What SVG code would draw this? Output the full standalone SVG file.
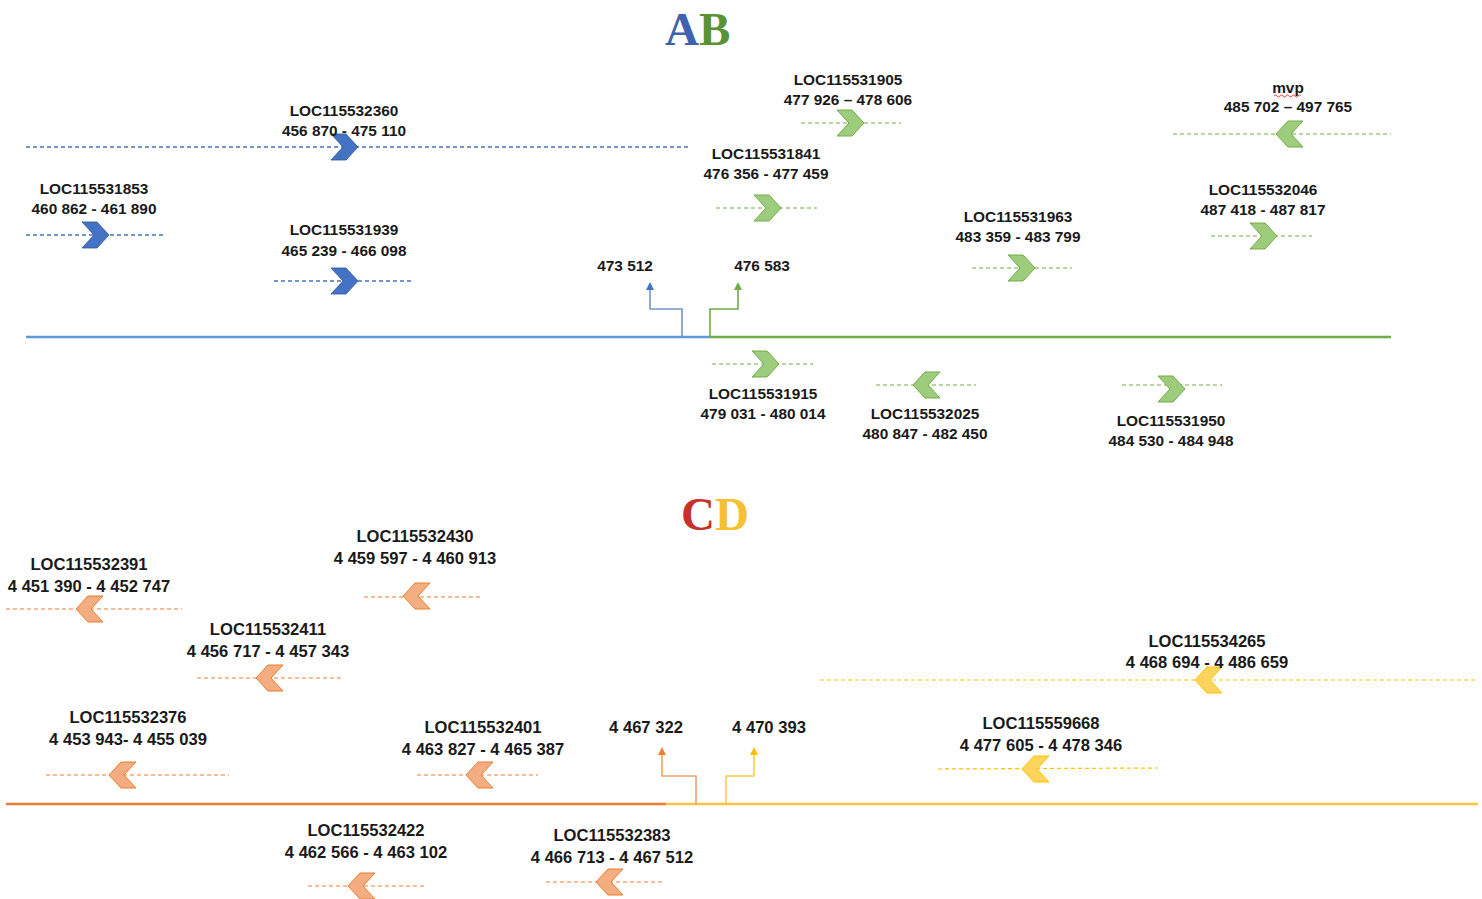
<svg xmlns="http://www.w3.org/2000/svg" width="1482" height="899" viewBox="0 0 1482 899">
<style>
.t{font-family:"Liberation Sans",Arial,sans-serif;font-weight:bold;fill:#1a1a1a;text-anchor:middle}
.ab{font-size:15.4px}
.cd{font-size:16.6px}
.title{font-family:"Liberation Serif","DejaVu Serif",serif;font-weight:bold;font-size:47px}
.dB{stroke:#4472C4;stroke-width:1.3;stroke-dasharray:4 3;fill:none}
.dG{stroke:#70AD47;stroke-width:1.2;stroke-dasharray:4 3;fill:none}
.dO{stroke:#ED7D31;stroke-width:1.2;stroke-dasharray:4 3;fill:none}
.dY{stroke:#FFC000;stroke-width:1.2;stroke-dasharray:4 3;fill:none}
.cB{fill:#4472C4;stroke:#2F5597;stroke-width:0.8}
.cG{fill:#9DCC7D;stroke:#70AD47;stroke-width:1}
.cO{fill:#F4AD80;stroke:#ED7D31;stroke-width:1}
.cY{fill:#FFD45C;stroke:#FFC000;stroke-width:1}
</style>
<defs>
<path id="chR" d="M0,0 H15 L27,13 L15,26 H0 L12,13 Z"/>
<path id="chL" d="M27,0 H12 L0,13 L12,26 H27 L15,13 Z"/>
</defs>
<rect width="1482" height="899" fill="#ffffff"/>

<g id="title-AB"><text class="title" x="665" y="45"><tspan fill="#3D63AE">A</tspan><tspan fill="#5B9236">B</tspan></text></g>
<g id="title-CD"><text class="title" x="681" y="530"><tspan fill="#C8302A">C</tspan><tspan fill="#F7C032">D</tspan></text></g>

<g id="connectors">
<line x1="26" y1="337" x2="710" y2="337" stroke="#5B9BD5" stroke-width="2.5"/>
<line x1="710" y1="337" x2="1391" y2="337" stroke="#70AD47" stroke-width="2.5"/>
<path d="M682,337 V309 H650 V289" fill="none" stroke="#6F97D6" stroke-width="1.6"/>
<path d="M646,290 L650,282 L654,290 Z" fill="#4472C4"/>
<path d="M710,337 V309 H738 V289" fill="none" stroke="#70AD47" stroke-width="1.6"/>
<path d="M734,290 L738,282 L742,290 Z" fill="#70AD47"/>

<line x1="6" y1="804" x2="666" y2="804" stroke="#ED7D31" stroke-width="2.5"/>
<line x1="666" y1="804" x2="1478" y2="804" stroke="#F7C341" stroke-width="2.5"/>
<path d="M696,804 V776 H662 V754" fill="none" stroke="#F0A06A" stroke-width="1.6"/>
<path d="M658,755 L662,747 L666,755 Z" fill="#ED7D31"/>
<path d="M726,804 V776 H754 V754" fill="none" stroke="#FFC94A" stroke-width="1.6"/>
<path d="M750,755 L754,747 L758,755 Z" fill="#FFC000"/>
</g>

<g id="pos-labels">
<text class="t ab" x="625" y="271">473 512</text>
<text class="t ab" x="762" y="271">476 583</text>
<text class="t cd" x="646" y="733">4 467 322</text>
<text class="t cd" x="769" y="733">4 470 393</text>
</g>

<g id="LOC115532360">
<line class="dB" x1="26" y1="147" x2="690" y2="147"/>
<use href="#chR" class="cB" x="331" y="134"/>
<text class="t ab" x="344" y="116">LOC115532360</text>
<text class="t ab" x="344" y="136">456 870 - 475 110</text>
</g>
<g id="LOC115531853">
<line class="dB" x1="26" y1="235" x2="163" y2="235"/>
<use href="#chR" class="cB" x="82" y="222"/>
<text class="t ab" x="94" y="194">LOC115531853</text>
<text class="t ab" x="94" y="214">460 862 - 461 890</text>
</g>
<g id="LOC115531939">
<line class="dB" x1="274" y1="281" x2="413" y2="281"/>
<use href="#chR" class="cB" x="331" y="268"/>
<text class="t ab" x="344" y="235">LOC115531939</text>
<text class="t ab" x="344" y="256">465 239 - 466 098</text>
</g>
<g id="LOC115531905">
<line class="dG" x1="801" y1="123" x2="901" y2="123"/>
<use href="#chR" class="cG" x="837" y="110"/>
<text class="t ab" x="848" y="85">LOC115531905</text>
<text class="t ab" x="848" y="105">477 926 – 478 606</text>
</g>
<g id="LOC115531841">
<line class="dG" x1="716" y1="208" x2="817" y2="208"/>
<use href="#chR" class="cG" x="754" y="195"/>
<text class="t ab" x="766" y="159">LOC115531841</text>
<text class="t ab" x="766" y="179">476 356 - 477 459</text>
</g>
<g id="mvp">
<line class="dG" x1="1173" y1="134" x2="1391" y2="134"/>
<use href="#chL" class="cG" x="1276" y="121"/>
<text class="t ab" x="1288" y="93">mvp</text>
<path d="M1274,96 q1.5,-2 3,0 t3,0 t3,0 t3,0 t3,0 t3,0 t3,0 t3,0 t3,0" fill="none" stroke="#E03030" stroke-width="0.9"/>
<text class="t ab" x="1288" y="112">485 702 – 497 765</text>
</g>
<g id="LOC115532046">
<line class="dG" x1="1211" y1="236" x2="1312" y2="236"/>
<use href="#chR" class="cG" x="1250" y="223"/>
<text class="t ab" x="1263" y="195">LOC115532046</text>
<text class="t ab" x="1263" y="215">487 418 - 487 817</text>
</g>
<g id="LOC115531963">
<line class="dG" x1="972" y1="268" x2="1072" y2="268"/>
<use href="#chR" class="cG" x="1008" y="255"/>
<text class="t ab" x="1018" y="222">LOC115531963</text>
<text class="t ab" x="1018" y="242">483 359 - 483 799</text>
</g>
<g id="LOC115531915">
<line class="dG" x1="712" y1="364" x2="813" y2="364"/>
<use href="#chR" class="cG" x="752" y="351"/>
<text class="t ab" x="763" y="399">LOC115531915</text>
<text class="t ab" x="763" y="419">479 031 - 480 014</text>
</g>
<g id="LOC115532025">
<line class="dG" x1="876" y1="385" x2="976" y2="385"/>
<use href="#chL" class="cG" x="913" y="372"/>
<text class="t ab" x="925" y="419">LOC115532025</text>
<text class="t ab" x="925" y="439">480 847 - 482 450</text>
</g>
<g id="LOC115531950">
<line class="dG" x1="1122" y1="385" x2="1222" y2="385"/>
<use href="#chR" class="cG" x="1158" y="376"/>
<text class="t ab" x="1171" y="426">LOC115531950</text>
<text class="t ab" x="1171" y="446">484 530 - 484 948</text>
</g>

<g id="LOC115532430">
<line class="dO" x1="364" y1="597" x2="481" y2="597"/>
<use href="#chL" class="cO" x="403" y="583"/>
<text class="t cd" x="415" y="542">LOC115532430</text>
<text class="t cd" x="415" y="564">4 459 597 - 4 460 913</text>
</g>
<g id="LOC115532391">
<line class="dO" x1="6" y1="609" x2="182" y2="609"/>
<use href="#chL" class="cO" x="76" y="596"/>
<text class="t cd" x="89" y="570">LOC115532391</text>
<text class="t cd" x="89" y="592">4 451 390 - 4 452 747</text>
</g>
<g id="LOC115532411">
<line class="dO" x1="197" y1="678" x2="341" y2="678"/>
<use href="#chL" class="cO" x="256" y="665"/>
<text class="t cd" x="268" y="635">LOC115532411</text>
<text class="t cd" x="268" y="657">4 456 717 - 4 457 343</text>
</g>
<g id="LOC115532376">
<line class="dO" x1="46" y1="775" x2="229" y2="775"/>
<use href="#chL" class="cO" x="109" y="762"/>
<text class="t cd" x="128" y="723">LOC115532376</text>
<text class="t cd" x="128" y="745">4 453 943- 4 455 039</text>
</g>
<g id="LOC115532401">
<line class="dO" x1="417" y1="775" x2="538" y2="775"/>
<use href="#chL" class="cO" x="466" y="762"/>
<text class="t cd" x="483" y="733">LOC115532401</text>
<text class="t cd" x="483" y="755">4 463 827 - 4 465 387</text>
</g>
<g id="LOC115534265">
<line class="dY" x1="820" y1="680" x2="1478" y2="680"/>
<use href="#chL" class="cY" x="1195" y="667"/>
<text class="t cd" x="1207" y="647">LOC115534265</text>
<text class="t cd" x="1207" y="668">4 468 694 - 4 486 659</text>
</g>
<g id="LOC115559668">
<line class="dY" x1="938" y1="769" x2="1158" y2="768"/>
<use href="#chL" class="cY" x="1022" y="756"/>
<text class="t cd" x="1041" y="729">LOC115559668</text>
<text class="t cd" x="1041" y="751">4 477 605 - 4 478 346</text>
</g>
<g id="LOC115532422">
<line class="dO" x1="308" y1="886" x2="426" y2="886"/>
<use href="#chL" class="cO" x="348" y="873"/>
<text class="t cd" x="366" y="836">LOC115532422</text>
<text class="t cd" x="366" y="858">4 462 566 - 4 463 102</text>
</g>
<g id="LOC115532383">
<line class="dO" x1="546" y1="882" x2="663" y2="882"/>
<use href="#chL" class="cO" x="596" y="869"/>
<text class="t cd" x="612" y="841">LOC115532383</text>
<text class="t cd" x="612" y="863">4 466 713 - 4 467 512</text>
</g>
</svg>
